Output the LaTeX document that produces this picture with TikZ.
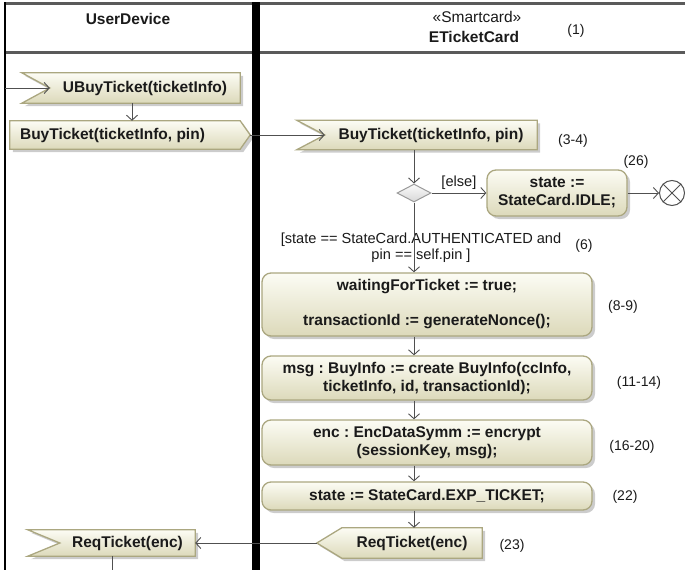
\documentclass[tikz,border=0pt]{standalone}
\usepackage{fontspec}
\setmainfont{Liberation Sans}
\usetikzlibrary{arrows.meta,shadows,calc,shapes.geometric}
\frenchspacing

\definecolor{laneline}{HTML}{5A5A5A}
\definecolor{boxtop}{HTML}{FCFCF4}
\definecolor{boxbot}{HTML}{DCD9BA}
\definecolor{boxline}{HTML}{ABA780}
\definecolor{flowline}{HTML}{505050}
\definecolor{inktext}{HTML}{1A1A1A}
\definecolor{decline}{HTML}{9A9A9A}
\definecolor{dectop}{HTML}{FAFAFA}
\definecolor{decbot}{HTML}{D8D8D8}

\newcommand\actfont{\bfseries\fontsize{15.5}{18}\selectfont}
\newcommand\refnofont{\fontsize{14}{16}\selectfont}
\newcommand\guardfont{\fontsize{14.6}{16}\selectfont}
\newcommand\headfont{\fontsize{15.5}{17}\selectfont}

\tikzset{
  boxfill/.style={draw=boxline, line width=1.3pt, top color=boxtop, bottom color=boxbot,
    drop shadow={shadow xshift=3pt, shadow yshift=-3pt, fill=black, opacity=0.2}},
  action/.style={boxfill, rounded corners=9pt, inner sep=0pt, align=center, font=\actfont, text=inktext},
  sigbody/.style={inner sep=0pt, draw=none},
  sigtext/.style={inner sep=0pt, font=\actfont, text=inktext},
  decision/.style={diamond, draw=decline, line width=1pt, top color=dectop, bottom color=decbot,
    minimum width=34pt, minimum height=18pt, inner sep=0pt, shape aspect=1.9},
  final/.style={circle, draw=flowline, line width=1pt, fill=white, minimum size=25pt, inner sep=0pt},
  flow/.style={draw=flowline, line width=0.9pt, -{Straight Barb[length=5pt,width=11pt,line width=0.9pt]}},
  plainflow/.style={draw=flowline, line width=0.9pt},
  refno/.style={font=\refnofont, text=inktext, inner sep=0pt},
  guard/.style={font=\guardfont, text=inktext, inner sep=0pt, align=center},
  headtext/.style={font=\headfont, text=inktext, inner sep=0pt},
}

\begin{document}
\begin{tikzpicture}[x=1pt, y=-1pt]
\useasboundingbox (0,0) rectangle (685,570);

% ---------- swimlane frame ----------
\draw[laneline, line width=3pt] (4,3.5) -- (685,3.5);
\draw[laneline, line width=3pt] (4,52) -- (685,52);
\draw[black, line width=2.5pt] (5,2) -- (5,570);
\draw[black, line width=7.5pt] (256,2) -- (256,570);

\node[headtext, font=\headfont\bfseries] (laneUser) at (128,19) {UserDevice};
\node[headtext] (laneStereo) at (477,17) {«Smartcard»};
\node[headtext, font=\headfont\bfseries] (laneCard) at (474,37) {ETicketCard};
\node[refno] (r1) at (576,31) {(1)};

% ---------- UserDevice lane ----------
% accept event: body spans from the notch tip to the right edge
\node[sigbody, minimum width=190pt, minimum height=30pt] (ubt) at (145,88) {};
\path[boxfill] (ubt.west) -- ($(ubt.north west)+(-28,0)$) -- (ubt.north east)
  -- (ubt.south east) -- ($(ubt.south west)+(-28,0)$) -- cycle;
\node[sigtext] (ubt-text) at (ubt.center) {UBuyTicket(ticketInfo)};

% send signal: body plus pointed right end
\node[sigbody, minimum width=205pt, minimum height=28pt] (bts) at (112.5,135) {};
\coordinate (bts-tip) at ($(bts.east)+(35,0)$);
\path[boxfill] (bts.north west) -- ($(bts.north east)+(25,0)$) -- (bts-tip)
  -- ($(bts.south east)+(25,0)$) -- (bts.south west) -- cycle;
\node[sigtext] (bts-text) at (bts.center) {BuyTicket(ticketInfo, pin)};

% accept event ReqTicket
\node[sigbody, minimum width=135pt, minimum height=26pt] (rqa) at (127.5,543) {};
\path[boxfill] (rqa.west) -- ($(rqa.north west)+(-32,0)$) -- (rqa.north east)
  -- (rqa.south east) -- ($(rqa.south west)+(-32,0)$) -- cycle;
\node[sigtext] (rqa-text) at (rqa.center) {ReqTicket(enc)};

% ---------- ETicketCard lane ----------
\node[sigbody, minimum width=212pt, minimum height=29pt] (bt) at (431,135) {};
\path[boxfill] (bt.west) -- ($(bt.north west)+(-28,0)$) -- (bt.north east)
  -- (bt.south east) -- ($(bt.south west)+(-28,0)$) -- cycle;
\node[sigtext] (bt-text) at (bt.center) {BuyTicket(ticketInfo, pin)};
\node[refno] (r34) at (573,141) {(3-4)};

\node[decision] (dec) at (414,193) {};

\node[action, minimum width=140pt, minimum height=46pt] (idle) at (557,193) {state :=\\StateCard.IDLE;};
\node[refno] (r26) at (636,162) {(26)};
\node[final] (fin) at (672,193) {};
\draw[flowline, line width=1pt] (fin.north west) -- (fin.south east) (fin.north east) -- (fin.south west);

\node[guard] (grd) at (421,248) {[state == StateCard.AUTHENTICATED and\\pin == self.pin ]};
\node[refno] (r6) at (584,246) {(6)};

\node[action, minimum width=330pt, minimum height=63pt] (wait) at (427,304.5)
  {waitingForTicket := true;\\[17pt]transactionId := generateNonce();};
\node[refno] (r89) at (623,307) {(8-9)};

\node[action, minimum width=330pt, minimum height=44pt] (msg) at (427,378)
  {msg : BuyInfo := create BuyInfo(ccInfo,\\ticketInfo, id, transactionId);};
\node[refno] (r1114) at (639,383) {(11-14)};

\node[action, minimum width=330pt, minimum height=45pt] (enc) at (427,442.5)
  {enc : EncDataSymm := encrypt\\(sessionKey, msg);};
\node[refno] (r1620) at (632,447) {(16-20)};

\node[action, minimum width=330pt, minimum height=28pt] (exp) at (427,496)
  {state := StateCard.EXP\_TICKET;};
\node[refno] (r22) at (625,497) {(22)};

% send signal ReqTicket, pointing left
\node[sigbody, minimum width=140pt, minimum height=30pt] (rqs) at (412,543) {};
\coordinate (rqs-tip) at ($(rqs.west)+(-25,0)$);
\path[boxfill] (rqs-tip) -- (rqs.north west) -- (rqs.north east)
  -- (rqs.south east) -- (rqs.south west) -- cycle;
\node[sigtext] (rqs-text) at (rqs.center) {ReqTicket(enc)};
\node[refno] (r23) at (512,546) {(23)};

% ---------- control flows ----------
\coordinate (entry) at (5,88);
\coordinate (exit) at (112,570);
\draw[flow] (entry) -- (ubt.west);
\draw[flow] ([xshift=-13pt]ubt.south) -- ([xshift=-13pt]ubt.south |- bts.north);
\draw[flow] (bts-tip) -- (bt.west);
\draw[flow] (bt.south -| dec) -- (dec.north);
\draw[flow] (dec.east) -- node[guard, above=3pt, pos=0.5] (elseguard) {[else]} (idle.west);
\draw[flow] (idle.east) -- (fin.west);
\draw[flow] (dec.south) -- (dec.south |- wait.north);
\draw[flow] (wait.south -| dec) -- (msg.north -| dec);
\draw[flow] (msg.south -| dec) -- (enc.north -| dec);
\draw[flow] (enc.south -| dec) -- (exp.north -| dec);
\draw[flow] (exp.south -| dec) -- (rqs.north -| dec);
\draw[flow] (rqs-tip) -- (rqa.east);
\draw[plainflow] (rqa.south -| exit) -- (exit);
\end{tikzpicture}
\end{document}
